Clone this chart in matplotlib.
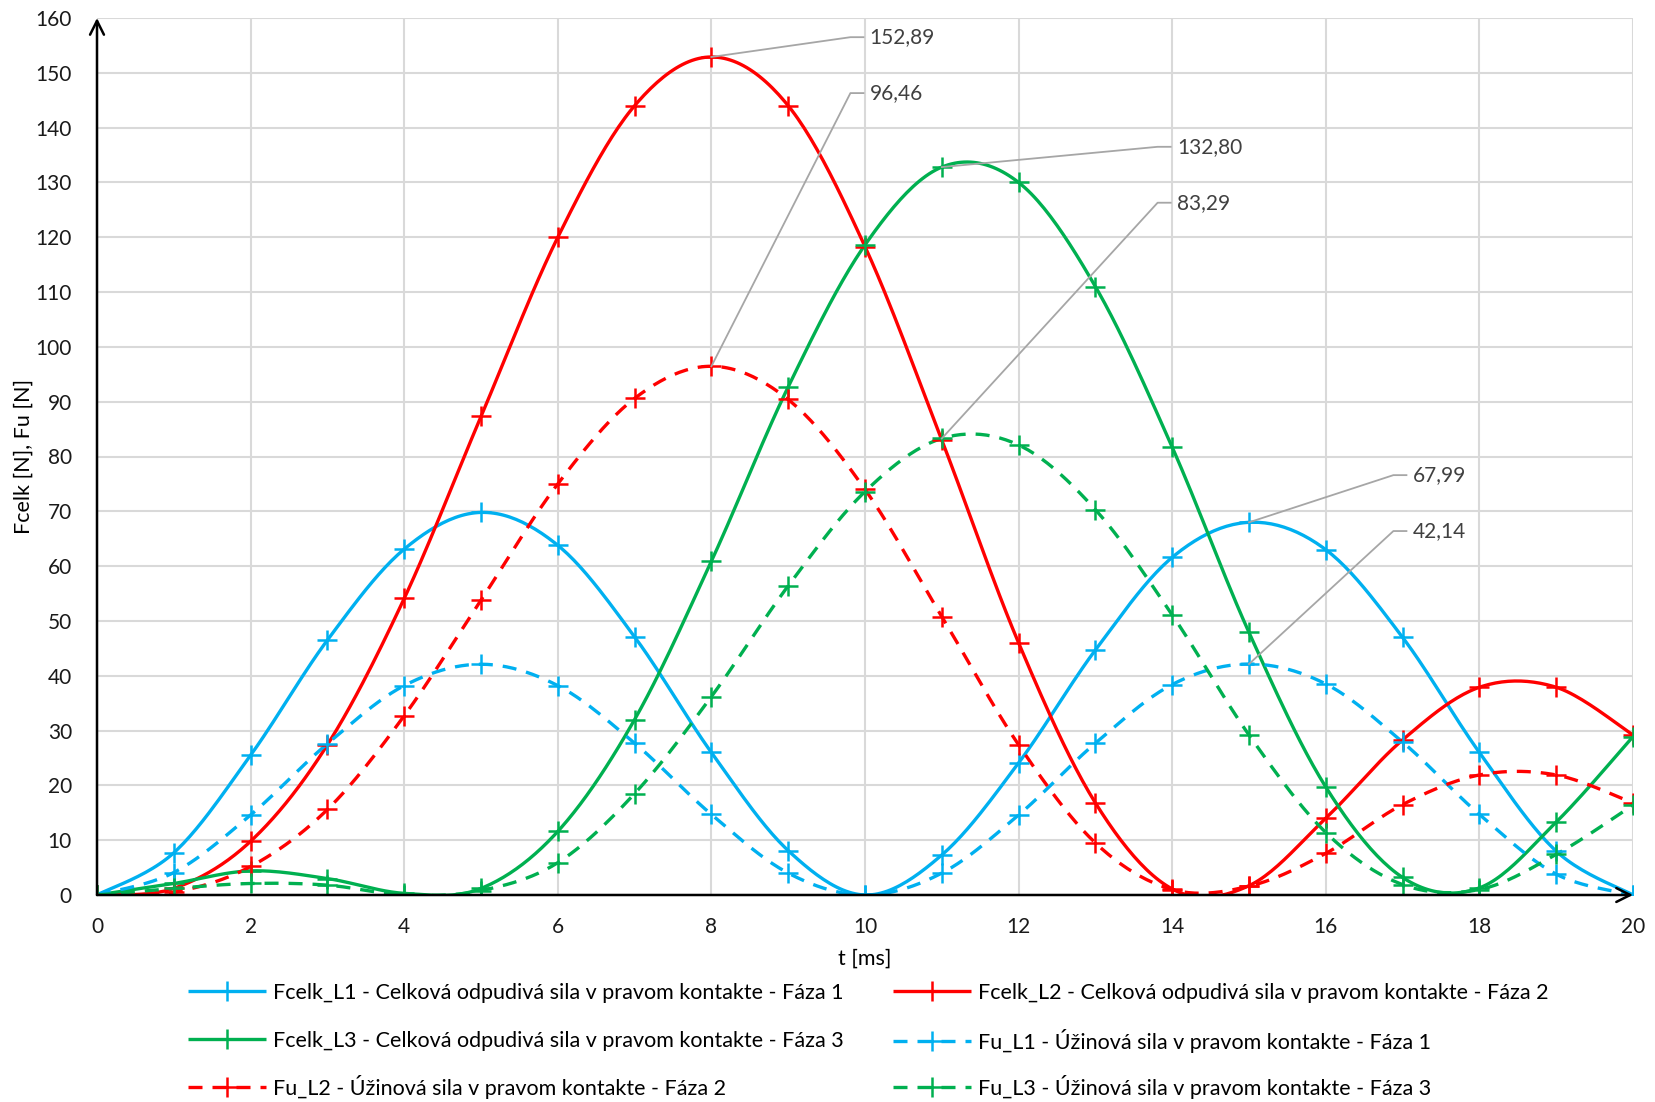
import numpy as np
import matplotlib
matplotlib.use("Agg")
import matplotlib.pyplot as plt
from matplotlib.lines import Line2D

plt.rcParams['font.family'] = ['Lato', 'DejaVu Sans']

t = list(range(0, 21))
fcelk_l1 = [0, 7.7, 25.5, 46.5, 63.1, 69.8, 63.8, 47.1, 26.0, 8.1, 0, 7.3, 24.1, 44.7, 61.6, 67.99, 63.0, 47.0, 26.0, 8.0, 0]
fcelk_l2 = [0, 1.2, 9.8, 27.4, 54.1, 87.3, 120.0, 144.0, 152.89, 144.0, 118.3, 83.0, 46.0, 16.8, 1.1, 1.7, 14.0, 28.3, 37.9, 37.9, 29.2]
fcelk_l3 = [0, 2.1, 4.4, 3.0, 0.3, 1.2, 11.6, 32.0, 60.9, 92.7, 118.6, 132.80, 130.0, 111.0, 81.7, 47.9, 19.7, 3.2, 1.3, 13.3, 28.9]
fu_l1 = [0, 4.1, 14.6, 27.6, 38.2, 42.1, 38.2, 27.7, 14.7, 4.0, 0, 4.0, 14.6, 27.7, 38.4, 42.14, 38.5, 27.9, 14.7, 3.8, 0]
fu_l2 = [0, 0.5, 5.2, 15.6, 32.7, 53.8, 75.0, 90.6, 96.46, 90.4, 74.0, 50.8, 27.4, 9.5, 1.0, 1.6, 7.6, 16.5, 21.9, 21.9, 16.8]
fu_l3 = [0, 1.2, 2.1, 1.8, 0.0, 0.8, 5.9, 18.5, 36.2, 56.4, 73.6, 83.29, 82.1, 70.3, 51.1, 29.2, 11.4, 1.9, 1.0, 7.4, 16.4]

labels = [
    "Fcelk_L1 - Celková odpudivá sila v pravom kontakte - Fáza 1",
    "Fcelk_L2 - Celková odpudivá sila v pravom kontakte - Fáza 2",
    "Fcelk_L3 - Celková odpudivá sila v pravom kontakte - Fáza 3",
    "Fu_L1 - Úžinová sila v pravom kontakte - Fáza 1",
    "Fu_L2 - Úžinová sila v pravom kontakte - Fáza 2",
    "Fu_L3 - Úžinová sila v pravom kontakte - Fáza 3",
]
peak_labels = [("152,89", 8, 152.89), ("96,46", 8, 96.46), ("132,80", 11, 132.80),
               ("83,29", 11, 83.29), ("67,99", 15, 67.99), ("42,14", 15, 42.14)]
label_pos = [(10.06, 156.5), (10.06, 146.3), (14.06, 136.5), (14.06, 126.3), (17.13, 76.6), (17.13, 66.4)]

BLUE, RED, GREEN = "#00B0F0", "#FF0000", "#00B050"


def smooth(x, y, n=24):
    P = np.column_stack([x, y]).astype(float)
    out = []
    m = len(P)
    for i in range(m - 1):
        p0 = P[i - 1] if i > 0 else P[i]
        p1 = P[i]
        p2 = P[i + 1]
        p3 = P[i + 2] if i + 2 < m else P[i + 1]
        c1 = p1 + (p2 - p0) / 6.0
        c2 = p2 - (p3 - p1) / 6.0
        s = np.linspace(0, 1, n, endpoint=(i == m - 2))[:, None]
        seg = ((1 - s) ** 3) * p1 + 3 * ((1 - s) ** 2) * s * c1 + 3 * (1 - s) * s ** 2 * c2 + s ** 3 * p2
        out.append(seg)
    Q = np.vstack(out)
    return Q[:, 0], Q[:, 1]


W, H = 1655, 1102
fig = plt.figure(figsize=(W / 100, H / 100), dpi=100)
ax = fig.add_axes([97 / W, 1 - 895 / H, (1633 - 97) / W, (895 - 18) / H])

series = [
    (fcelk_l1, BLUE, '-'), (fcelk_l2, RED, '-'), (fcelk_l3, GREEN, '-'),
    (fu_l1, BLUE, '--'), (fu_l2, RED, '--'), (fu_l3, GREEN, '--'),
]
LW = 2.4
MS, MEW = 14, 1.8
handles = []
for (vals, col, ls), lab in zip(series, labels):
    sx, sy = smooth(t, vals)
    kw = dict(color=col, lw=LW, solid_capstyle='butt', dash_capstyle='butt')
    if ls == '--':
        kw['dashes'] = (4.2, 3.0)
    ax.plot(sx, sy, zorder=3, **kw)
    ax.plot(t, vals, linestyle='none', marker='+', markersize=MS, markeredgewidth=MEW,
            color=col, zorder=4)
    h = Line2D([], [], marker='+', markersize=MS, markeredgewidth=MEW, **kw)
    handles.append(h)

ax.set_xlim(0, 20)
ax.set_ylim(0, 160)
ax.set_xticks(range(0, 21, 2))
ax.set_yticks(range(0, 161, 10))
ax.grid(True, color="#D9D9D9", lw=1.5, zorder=0)
ax.set_axisbelow(True)
for s in ax.spines.values():
    s.set_visible(False)
ax.tick_params(length=0, labelsize=15, labelcolor="#1a1a1a")
ax.tick_params(axis='x', pad=16)
ax.tick_params(axis='y', pad=18)

# axis lines with arrows
ax.annotate("", xy=(0, 160), xytext=(0, 0), xycoords='data',
            arrowprops=dict(arrowstyle='->', color='black', lw=1.8, mutation_scale=25,
                            shrinkA=0, shrinkB=0), annotation_clip=False, zorder=5)
ax.annotate("", xy=(20, 0), xytext=(0, 0), xycoords='data',
            arrowprops=dict(arrowstyle='->', color='black', lw=1.8, mutation_scale=25,
                            shrinkA=0, shrinkB=0), annotation_clip=False, zorder=5)

ax.set_xlabel("t [ms]", fontsize=15.5, labelpad=8)
fig.text(24 / W, 1 - 456 / H, "Fcelk [N], Fu [N]", fontsize=15.5, rotation=90,
         ha='center', va='center')

# data labels with leader lines
for (txt, px, py), (lx, ly) in zip(peak_labels, label_pos):
    ax.plot([px, lx - 0.25, lx - 0.08], [py, ly, ly], color="#A6A6A6", lw=1.3, zorder=6,
            clip_on=False)
    ax.text(lx, ly, txt, fontsize=15, color="#404040", va='center', ha='left', zorder=7)

# legend: 2 columns x 3 rows, placed entry by entry so rows align
col_x = [188 / W, 893 / W]
row_y = [1 - 993 / H, 1 - 1041 / H, 1 - 1087 / H]
for i, (h, lab) in enumerate(zip(handles, labels)):
    r, c = divmod(i, 2)
    fig.legend([h], [lab], loc='center left', bbox_to_anchor=(col_x[c], row_y[r]),
               frameon=False, fontsize=15.5, handlelength=3.6, handletextpad=0.35,
               borderaxespad=0, borderpad=0)

fig.savefig("out.png", dpi=100)
